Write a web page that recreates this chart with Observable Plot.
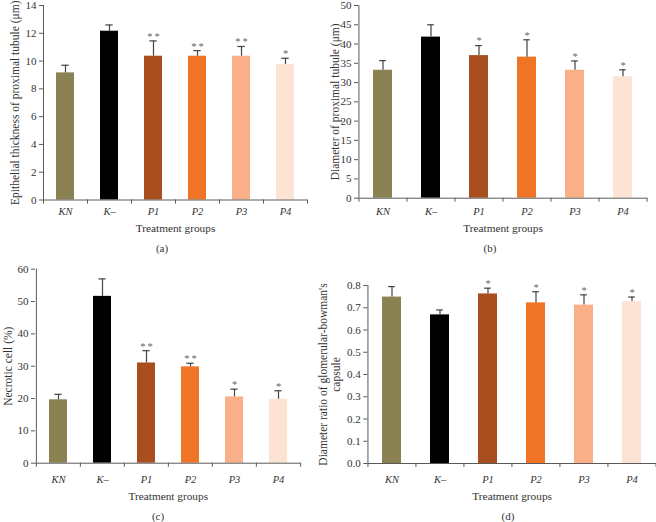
<!DOCTYPE html>
<html><head><meta charset="utf-8">
<script src="https://cdn.jsdelivr.net/npm/d3@7"></script>
<script src="https://cdn.jsdelivr.net/npm/@observablehq/plot@0.6"></script>
<style>
body{margin:0;background:#fff;}
#root{position:relative;width:656px;height:522px;overflow:hidden;font-family:"Liberation Serif",serif;background:#fff;}
.panel{position:absolute;}
.panel svg, .panel svg text{font-family:"Liberation Serif",serif !important;font-weight:normal;}
.cap{position:absolute;font-size:11px;color:#333;transform:translate(-50%,-50%);white-space:nowrap;font-family:"Liberation Serif",serif;}
</style></head><body><div id="root"></div>
<script>
// ---- data ----
const groups = ["KN", "K–", "P1", "P2", "P3", "P4"];
const barColors = ["#8b8253", "#000000", "#a94e1e", "#f07426", "#f9b088", "#fde3d4"];

const epithelialMean = [9.15, 12.15, 10.35, 10.35, 10.35, 9.75];
const epithelialErr  = [0.55, 0.45, 1.1, 0.4, 0.7, 0.45];
const epithelialSig  = ["", "", "**", "**", "**", "*"];
const epithelialTicks = [0, 2, 4, 6, 8, 10, 12, 14];

const diameterMean = [33.2, 41.8, 37.0, 36.6, 33.2, 31.5];
const diameterErr  = [2.5, 3.2, 2.6, 4.5, 2.4, 1.8];
const diameterSig  = ["", "", "*", "*", "*", "*"];
const diameterTicks = [0, 5, 10, 15, 20, 25, 30, 35, 40, 45, 50];

const necroticMean = [19.6, 51.6, 31.0, 29.8, 20.5, 19.8];
const necroticErr  = [1.7, 5.4, 3.8, 1.1, 2.4, 2.6];
const necroticSig  = ["", "", "**", "**", "*", "*"];
const necroticTicks = [0, 10, 20, 30, 40, 50, 60];

const ratioMean = [0.748, 0.668, 0.762, 0.722, 0.712, 0.728];
const ratioErr  = [0.047, 0.022, 0.026, 0.050, 0.046, 0.020];
const ratioSig  = ["", "", "*", "*", "*", "*"];
const ratioTicks = [0, 0.1, 0.2, 0.3, 0.4, 0.5, 0.6, 0.7, 0.8];

const xTitle = "Treatment groups";

// ---- layout ----
const panels = [
  {cap: "(a)", mean: epithelialMean, err: epithelialErr, sig: epithelialSig, ticks: epithelialTicks,
   title: "Epithelial thickness of proximal tubule (μm)",
   left: 0, top: 0, width: 328, height: 262, mL: 43, mR: 21, mT: 5, mB: 62.5,
   titleDx: -29, xLabPad: 8, xTitleDy: 28.5, capX: 162, capY: 248},
  {cap: "(b)", mean: diameterMean, err: diameterErr, sig: diameterSig, ticks: diameterTicks,
   title: "Diameter of proximal tubule (μm)",
   left: 328, top: 0, width: 328, height: 262, mL: 30, mR: 9, mT: 5, mB: 64.3,
   titleDx: -24, xLabPad: 9, xTitleDy: 30.3, capX: 490, capY: 248},
  {cap: "(c)", mean: necroticMean, err: necroticErr, sig: necroticSig, ticks: necroticTicks,
   title: "Necrotic cell (%)",
   left: 0, top: 262, width: 328, height: 260, mL: 35, mR: 27.5, mT: 6.7, mB: 59.3,
   titleDx: -28, xLabPad: 12, xTitleDy: 33.6, capX: 158, capY: 516},
  {cap: "(d)", mean: ratioMean, err: ratioErr, sig: ratioSig, ticks: ratioTicks,
   title: "Diameter ratio of glomerular-bowman's\ncapsule",
   left: 310, top: 262, width: 346, height: 260, mL: 57.3, mR: 0, mT: 23, mB: 59,
   titleDx: -38.8, xLabPad: 12, xTitleDy: 33, capX: 508, capY: 516}
];

const root = document.getElementById("root");
const axisColor = "#5a5a5a";
const textColor = "#333";
const FONT = "Liberation Serif";

for (const p of panels) {
  const rows = groups.map((g, i) => ({group: g, mean: p.mean[i], top: p.mean[i] + p.err[i], sig: p.sig[i]}));
  const yMax = p.ticks[p.ticks.length - 1];
  const step = (p.width - p.mL - p.mR) / groups.length;
  const bw = step * 0.4;
  const capInset = (bw - 7) / 2;
  const chart = Plot.plot({
    width: p.width, height: p.height,
    marginLeft: p.mL, marginRight: p.mR, marginTop: p.mT, marginBottom: p.mB,
    style: {fontFamily: FONT, background: "transparent", overflow: "visible", color: textColor},
    x: {domain: groups, paddingInner: 0.6, paddingOuter: 0.3},
    y: {domain: [0, yMax]},
    marks: [
      Plot.barY(rows, {x: "group", y: "mean", fill: d => barColors[groups.indexOf(d.group)]}),
      Plot.ruleX(rows, {x: "group", y1: "mean", y2: "top", stroke: "#444", strokeWidth: 1.2}),
      Plot.tickY(rows, {x: "group", y: "top", stroke: "#444", strokeWidth: 1.2, insetLeft: capInset, insetRight: capInset}),
      Plot.text(rows, {x: "group", y: "top", text: d => d.sig.split("").join("\u2009"), dy: -4.5, fontSize: 10.5, fill: "#666", fontFamily: FONT}),
      Plot.ruleY([0], {stroke: axisColor}),
      Plot.ruleX([groups[0]], {x: d => d, dx: -step / 2, y1: 0, y2: yMax, stroke: axisColor}),
      Plot.ruleX(groups, {x: d => d, dx: -step / 2, y1: 0, y2: 0, insetBottom: -4, stroke: axisColor}),
      Plot.ruleX([groups[groups.length - 1]], {x: d => d, dx: step / 2, y1: 0, y2: 0, insetBottom: -4, stroke: axisColor}),
      Plot.axisY({ticks: p.ticks, tickSize: 4, tickPadding: 3, fontSize: 11, fontFamily: FONT, stroke: axisColor, label: null}),
      Plot.axisX({tickSize: 0, tickPadding: p.xLabPad, fontSize: 10.5, fontFamily: FONT, fontStyle: "italic", label: null}),
      Plot.text([p.title], {frameAnchor: "left", textAnchor: "middle", lineAnchor: "middle", rotate: -90, dx: p.titleDx, fontSize: 11.5, lineHeight: 1.15, fontFamily: FONT}),
      Plot.text([xTitle], {frameAnchor: "bottom", textAnchor: "middle", lineAnchor: "middle", dy: p.xTitleDy, fontSize: 11.3, fontFamily: FONT})
    ]
  });
  const div = document.createElement("div");
  div.className = "panel";
  div.style.left = p.left + "px";
  div.style.top = p.top + "px";
  div.appendChild(chart);
  root.appendChild(div);
  const cap = document.createElement("div");
  cap.className = "cap";
  cap.style.left = p.capX + "px";
  cap.style.top = p.capY + "px";
  cap.textContent = p.cap;
  root.appendChild(cap);
}
</script>
</body></html>
